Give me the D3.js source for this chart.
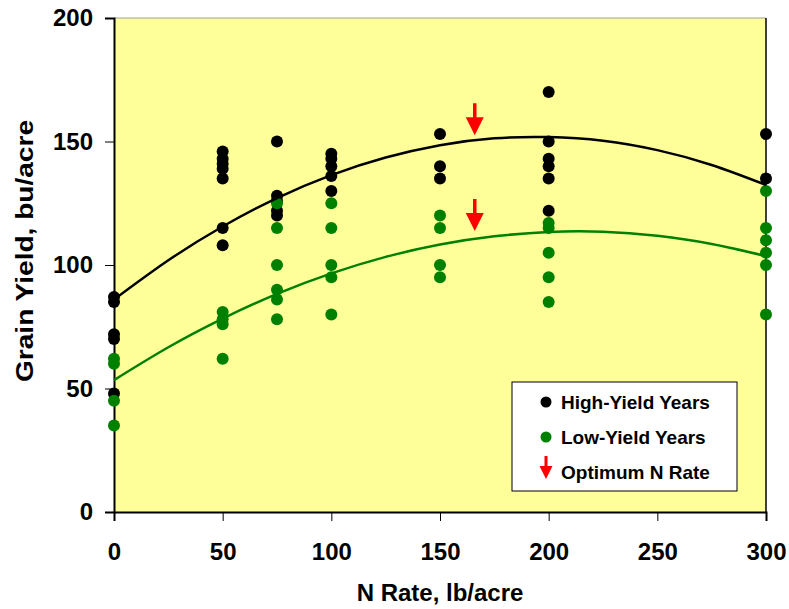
<!DOCTYPE html>
<html><head><meta charset="utf-8">
<script src="https://cdn.jsdelivr.net/npm/d3@7"></script>
<style>
html,body{margin:0;padding:0;background:#fff;}
text{font-family:"Liberation Sans",Arial,sans-serif;font-weight:bold;}
</style></head>
<body>
<svg id="chart" width="789" height="609"></svg>
<script>
// ---- data ----
const xTicks = [0, 50, 100, 150, 200, 250, 300];
const yTicks = [0, 50, 100, 150, 200];

const highRates  = [0,0,0,0,0, 50,50,50,50,50,50,50, 75,75,75,75,75, 100,100,100,100,100, 150,150,150, 200,200,200,200,200,200, 300,300];
const highYields = [87,85,72,70,48, 146,143,141,139,135,115,108, 150,128,126,122,120, 145,143,140,136,130, 153,140,135, 170,150,143,140,135,122, 153,135];

const lowRates  = [0,0,0,0, 50,50,50,50, 75,75,75,75,75,75, 100,100,100,100,100, 150,150,150,150, 200,200,200,200,200, 300,300,300,300,300,300];
const lowYields = [62,60,45,35, 81,78,76,62, 125,115,100,90,86,78, 125,115,100,95,80, 120,115,100,95, 117,115,105,95,85, 130,115,110,105,100,80];

const curveRates = [0,25,50,75,100,125,150,175,200,225,250,275,300];
const highCurve  = [86,101.9,115.6,127.1,136.4,143.5,148.5,151.3,151.8,150.3,146.5,140.5,132.4];
const lowCurve   = [53.4,66.7,78.3,88.3,96.6,103.3,108.3,111.6,113.4,113.5,111.8,108.5,103.6];

const optimumRate = 166;
const optimumTips = [152.5, 113.8];

const legendLabels = ["High-Yield Years", "Low-Yield Years", "Optimum N Rate"];

// ---- chart ----
(function () {
const svg = d3.select("#chart");
const pL = 114, pR = 766, pT = 18, pB = 512;
const x = d3.scaleLinear().domain([0, 300]).range([pL, pR]);
const y = d3.scaleLinear().domain([0, 200]).range([pB, pT]);

svg.append("rect").attr("x", pL).attr("y", pT)
  .attr("width", pR - pL).attr("height", pB - pT)
  .attr("fill", "#FFFF99").attr("stroke", "none");
svg.append("line").attr("x1", pL).attr("x2", pR).attr("y1", pT).attr("y2", pT)
  .attr("stroke", "#a0a0a0").attr("stroke-width", 1);
svg.append("line").attr("x1", pR).attr("x2", pR).attr("y1", pT).attr("y2", pB)
  .attr("stroke", "#000").attr("stroke-width", 1.5);

// axes
const xAxis = d3.axisBottom(x).tickValues(xTicks).tickSize(9).tickPadding(22).tickFormat(d3.format("d"));
const gx = svg.append("g").attr("transform", `translate(0,${pB})`).call(xAxis);
gx.select(".domain").attr("stroke", "#000").attr("stroke-width", 2);
gx.selectAll(".tick line").attr("stroke", "#000").attr("stroke-width", 1);
gx.selectAll("text").attr("font-size", 24).attr("fill", "#000")
  .attr("font-family", "Liberation Sans, Arial, sans-serif").attr("font-weight", "bold");

const yAxis = d3.axisLeft(y).tickValues(yTicks).tickSize(9).tickPadding(12).tickFormat(d3.format("d"));
const gy = svg.append("g").attr("transform", `translate(${pL},0)`).call(yAxis);
gy.select(".domain").attr("stroke", "#000").attr("stroke-width", 2);
gy.selectAll(".tick line").attr("stroke", "#000").attr("stroke-width", 1);
gy.selectAll("text").attr("font-size", 24).attr("fill", "#000")
  .attr("font-family", "Liberation Sans, Arial, sans-serif").attr("font-weight", "bold");

// titles
svg.append("text").attr("x", (pL + pR) / 2).attr("y", 601)
  .attr("text-anchor", "middle").attr("font-size", 24).text("N Rate, lb/acre");
svg.append("text").attr("transform", `translate(33,251) rotate(-90)`)
  .attr("text-anchor", "middle").attr("font-size", 24)
  .attr("textLength", 262).attr("lengthAdjust", "spacingAndGlyphs")
  .text("Grain Yield, bu/acre");

// points
const r = 6;
svg.append("g").selectAll("circle").data(highRates.map((d, i) => [d, highYields[i]]))
  .join("circle").attr("cx", d => x(d[0])).attr("cy", d => y(d[1])).attr("r", r).attr("fill", "#000");
svg.append("g").selectAll("circle").data(lowRates.map((d, i) => [d, lowYields[i]]))
  .join("circle").attr("cx", d => x(d[0])).attr("cy", d => y(d[1])).attr("r", r).attr("fill", "#008000");

// fitted curves
const line = d3.line().x(d => x(d[0])).y(d => y(d[1])).curve(d3.curveNatural);
svg.append("path").datum(curveRates.map((d, i) => [d, highCurve[i]]))
  .attr("d", line).attr("fill", "none").attr("stroke", "#000").attr("stroke-width", 2.5);
svg.append("path").datum(curveRates.map((d, i) => [d, lowCurve[i]]))
  .attr("d", line).attr("fill", "none").attr("stroke", "#008000").attr("stroke-width", 2.5);

// arrows
function arrow(g, cx, tipY, len, headW, headH, shaftW) {
  const p = d3.path();
  p.moveTo(cx - shaftW / 2, tipY - len);
  p.lineTo(cx + shaftW / 2, tipY - len);
  p.lineTo(cx + shaftW / 2, tipY - headH);
  p.lineTo(cx + headW / 2, tipY - headH);
  p.lineTo(cx, tipY);
  p.lineTo(cx - headW / 2, tipY - headH);
  p.lineTo(cx - shaftW / 2, tipY - headH);
  p.closePath();
  g.append("path").attr("d", p.toString()).attr("fill", "#FF0000");
}
optimumTips.forEach(t => arrow(svg, x(optimumRate), y(t), 32, 18, 18, 3.5));

// legend
const lg = svg.append("g");
lg.append("rect").attr("x", 512).attr("y", 382).attr("width", 225).attr("height", 109)
  .attr("fill", "#fff").attr("stroke", "#000").attr("stroke-width", 1);
const ly = [402, 437, 472];
lg.append("circle").attr("cx", 546).attr("cy", ly[0]).attr("r", 5.5).attr("fill", "#000");
lg.append("circle").attr("cx", 546).attr("cy", ly[1]).attr("r", 5.5).attr("fill", "#008000");
arrow(lg, 546, ly[2] + 7, 23, 13, 13, 3);
legendLabels.forEach((t, i) => {
  lg.append("text").attr("x", 561).attr("y", ly[i] + 7).attr("font-size", 19).text(t);
});
})();
</script>
</body></html>
